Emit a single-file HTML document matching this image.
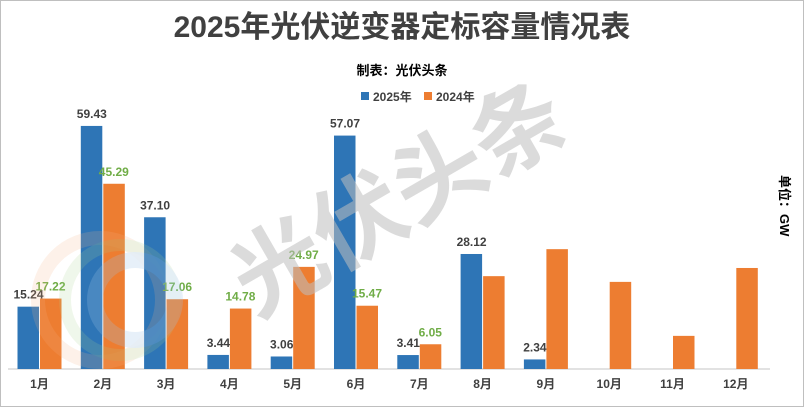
<!DOCTYPE html><html><head><meta charset="utf-8"><style>
body{margin:0;background:#fff}
svg{display:block;font-family:"Liberation Sans","Noto Sans CJK SC",sans-serif}
</style></head><body>
<svg width="804" height="407" xmlns="http://www.w3.org/2000/svg">
<rect x="0.5" y="0.5" width="803" height="406" fill="#fff" stroke="#bfbfbf"/>
<text x="402" y="37" font-size="30" font-weight="bold" fill="#404040" text-anchor="middle">2025年光伏逆变器定标容量情况表</text>
<text x="402" y="75" font-size="13" font-weight="bold" fill="#000" text-anchor="middle">制表：光伏头条</text>
<rect x="361" y="92" width="8" height="8" fill="#2e75b6"/><text x="373" y="101" font-size="12" font-weight="bold" fill="#404040">2025年</text>
<rect x="424" y="92" width="8" height="8" fill="#ed7d31"/><text x="436" y="101" font-size="12" font-weight="bold" fill="#404040">2024年</text>
<text x="780" y="175" font-size="13" font-weight="bold" fill="#000" transform="rotate(90 780 175)">单位：GW</text>
<line x1="8" y1="369" x2="770" y2="369" stroke="#d9d9d9" stroke-width="1.5"/>
<g id="bars"></g>
<g opacity="0.3">
<circle cx="100" cy="300" r="62" fill="none" stroke="#f4b183" stroke-width="14" opacity="0.6"/>
<circle cx="120" cy="300" r="55" fill="none" stroke="#a9d18e" stroke-width="12" opacity="0.6"/>
<circle cx="135" cy="300" r="40" fill="none" stroke="#9dc3e6" stroke-width="16" opacity="0.8"/>
</g>
<text x="400" y="230" font-size="92" font-weight="bold" fill="#bfbfbf" text-anchor="middle" transform="rotate(-30 400 200)" opacity="0.55">光伏头条</text>
</svg>
<script>
var a=[15.24,59.43,37.10,3.44,3.06,57.07,3.41,28.12,2.34,null,null,null];
var b=[17.22,45.29,17.06,14.78,24.97,15.47,6.05,22.7,29.3,21.3,8.1,24.7];
var s=4.09,base=369,g=document.getElementById('bars'),h='';
for(var i=0;i<12;i++){var c=39.5+63.3*i;
if(a[i]!=null){var t=base-a[i]*s;h+='<rect x="'+(c-22)+'" y="'+t+'" width="21.5" height="'+(a[i]*s)+'" fill="#2e75b6"/>';
h+='<text x="'+(c-11)+'" y="'+(t-8)+'" font-size="12" font-weight="bold" fill="#404040" text-anchor="middle">'+a[i].toFixed(2)+'</text>';}
var u=base-b[i]*s;h+='<rect x="'+(c+0.5)+'" y="'+u+'" width="21.5" height="'+(b[i]*s)+'" fill="#ed7d31"/>';
if(i<7)h+='<text x="'+(c+11)+'" y="'+(u-8)+'" font-size="12" font-weight="bold" fill="#70ad47" text-anchor="middle">'+b[i].toFixed(2)+'</text>';
h+='<text x="'+c+'" y="388" font-size="12" font-weight="bold" fill="#404040" text-anchor="middle">'+(i+1)+'月</text>';}
g.innerHTML=h;
</script>
</body></html>
